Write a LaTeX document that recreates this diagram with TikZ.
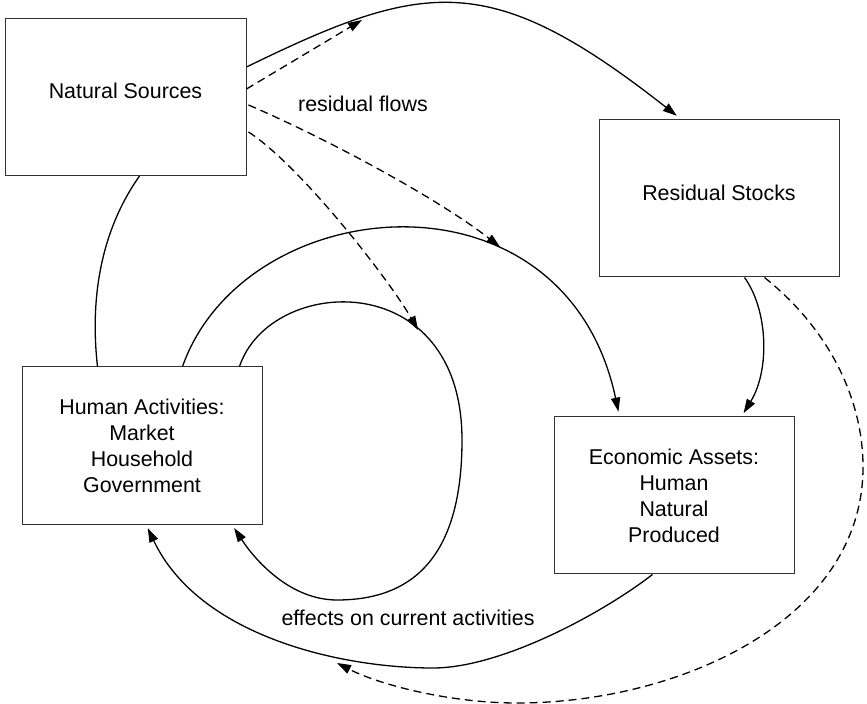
\documentclass[tikz,border=0pt]{standalone}
\usepackage{fontspec}
\setmainfont{Liberation Sans}
\usetikzlibrary{arrows.meta,calc}
\begin{document}
\begin{tikzpicture}[x=0.5pt,y=-0.5pt,
  font=\fontsize{10.7pt}{13pt}\selectfont,
  box/.style={draw=black!80,line width=0.5pt,inner sep=0pt,align=center,
    minimum width=120pt,minimum height=78.5pt},
  conn/.style={line width=0.65pt,line cap=butt},
  arr/.style={conn,-{Triangle[length=7pt,width=4.6pt]}},
  dsh/.style={dash pattern=on 4pt off 2.5pt},
  lbl/.style={inner sep=0pt}]
\useasboundingbox (0,0) rectangle (867,704);

\node[box,minimum width=120.5pt,text depth=6pt] (ns) at (125.5,97) {Natural Sources};
\node[box,text depth=6pt] (rs) at (719,198.5) {Residual Stocks};
\node[box,minimum height=79pt] (ha) at (142,446) {Human Activities:\\Market\\Household\\Government};
\node[box] (ea) at (674,495.5) {Economic Assets:\\Human\\Natural\\Produced};

\node[lbl] (rf) at (363,103.5) {residual flows};
\node[lbl] (ef) at (408,617.5) {effects on current activities};

\coordinate (tipB) at (362,20);
\coordinate (tipC) at (500,247);
\coordinate (tipD) at (418,330);
\coordinate (tipI) at (337,663);

% Natural Sources -> Residual Stocks
\draw[arr,shorten >=3pt] ($(ns.north east)+(0,49)$) .. controls (425,-20) and (490,-31) .. ($(rs.north west)+(83,0)$);
% residual flows (dashed)
\draw[arr,dsh] ($(ns.north east)+(0,71)$) -- (tipB);
\draw[arr,dsh] ($(ns.north east)+(2,87)$) .. controls (330,140) and (440,200) .. (tipC);
\draw[arr,dsh] ($(ns.north east)+(2,114)$) .. controls (301,166) and (390,281) .. (tipD);
% Natural Sources -- Human Activities
\draw[conn] ($(ns.south west)+(135,0)$) .. controls (100,232) and (90,300) .. ($(ha.north west)+(76,0)$);
% Human Activities -> Economic Assets
\draw[arr,shorten >=2.5pt] ($(ha.north west)+(161,0)$) .. controls (245,190) and (565,160) .. ($(ea.north west)+(66,0)$);
% inner loop
\draw[arr,shorten >=1.5pt] ($(ha.north west)+(218,0)$) .. controls (270,275) and (462,265) .. (462,440)
  .. controls (462,560) and (410,600) .. (337,600)
  .. controls (290,600) and (255,560) .. ($(ha.south west)+(211,0)$);
% Economic Assets -> Human Activities
\draw[arr,shorten >=1.5pt] ($(ea.south west)+(99,0)$) .. controls (600,615) and (500,668) .. (433,668)
  .. controls (340,668) and (199,636) .. ($(ha.south west)+(125,0)$);
% Residual Stocks -> Economic Assets
\draw[arr,shorten >=2pt] ($(rs.south west)+(146,0)$) .. controls (768,310) and (770,370) .. ($(ea.north west)+(188,0)$);
% Residual Stocks -> effects (dashed)
\draw[arr,dsh] ($(rs.south west)+(166,0)$) .. controls (830,330) and (863,400) .. (863,467)
  .. controls (863,620) and (680,703) .. (517,703)
  .. controls (450,703) and (380,685) .. (tipI);
\end{tikzpicture}
\end{document}
